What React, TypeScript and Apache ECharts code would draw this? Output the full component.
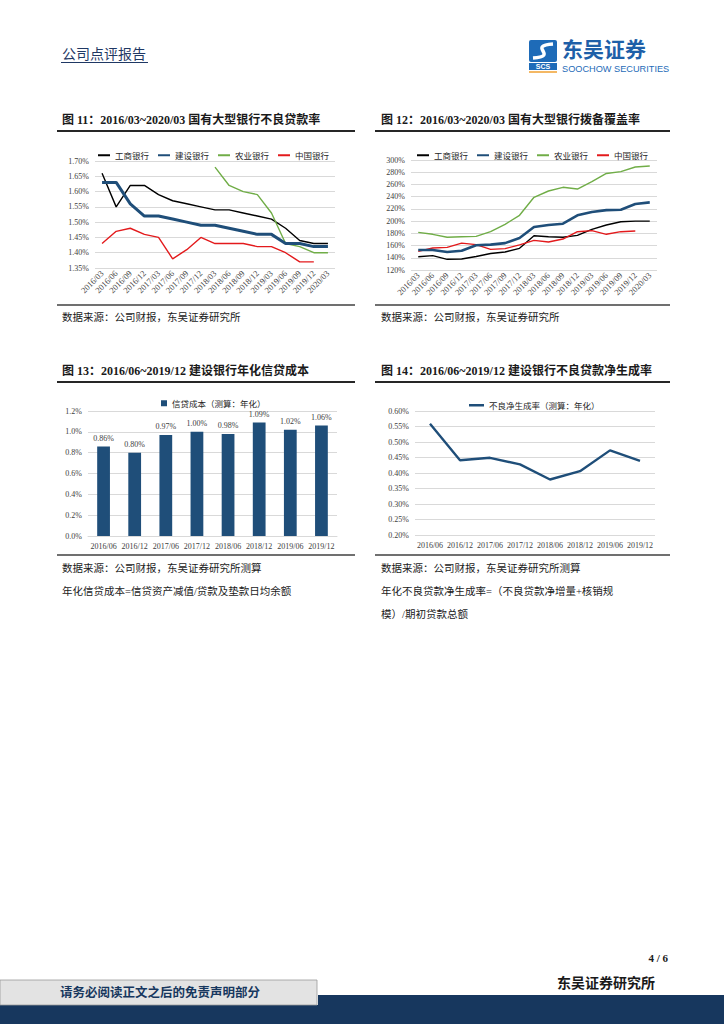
import React, { useEffect, useRef } from "react";
import * as echarts from "echarts";

const quarters = [
  "2016/03", "2016/06", "2016/09", "2016/12", "2017/03", "2017/06", "2017/09", "2017/12",
  "2018/03", "2018/06", "2018/09", "2018/12", "2019/03", "2019/06", "2019/09", "2019/12", "2020/03",
];
const bankNames = ["工商银行", "建设银行", "农业银行", "中国银行"];
const bankColors = ["#000000", "#1F4E79", "#70AD47", "#E31A1C"];

const nplICBC = [1.66, 1.55, 1.62, 1.62, 1.59, 1.57, 1.56, 1.55, 1.54, 1.54, 1.53, 1.52, 1.51, 1.48, 1.44, 1.43, 1.43];
const nplCCB = [1.63, 1.63, 1.56, 1.52, 1.52, 1.51, 1.50, 1.49, 1.49, 1.48, 1.47, 1.46, 1.46, 1.43, 1.43, 1.42, 1.42];
const nplABC = [null, null, null, null, null, null, null, null, 1.68, 1.62, 1.60, 1.59, 1.53, 1.43, 1.42, 1.40, 1.40];
const nplBOC = [1.43, 1.47, 1.48, 1.46, 1.45, 1.38, 1.41, 1.45, 1.43, 1.43, 1.43, 1.42, 1.42, 1.40, 1.37, 1.37, null];

const covICBC = [141.8, 143.5, 137.5, 138, 142, 147, 149.5, 155.5, 176, 174.5, 173.5, 176.7, 186.5, 193.6, 199, 200, 200];
const covCCB = [152.7, 152.7, 149.5, 151.6, 160.4, 161.5, 164, 172.4, 190.4, 193.6, 195.8, 209.5, 215, 218, 218.7, 228, 230.7];
const covABC = [181.6, 178.4, 173.5, 174.5, 175, 182.7, 194.7, 209.5, 239, 249.3, 255.3, 252.5, 264.5, 278, 281, 288.6, 290.2];
const covBOC = [150.5, 156, 157, 164, 161.5, 153.8, 155, 161, 168.5, 165.8, 170.7, 182.7, 184.4, 178.4, 182.7, 183.8, null];

const halfYears = ["2016/06", "2016/12", "2017/06", "2017/12", "2018/06", "2018/12", "2019/06", "2019/12"];
const creditCost = [0.86, 0.80, 0.97, 1.00, 0.98, 1.09, 1.02, 1.06];
const nplFormation = [0.559, 0.441, 0.449, 0.428, 0.379, 0.406, 0.473, 0.439];

const creditCostName = "信贷成本（测算：年化）";
const nplFormationName = "不良净生成率（测算：年化）";

const SERIF = "'Liberation Serif', 'Times New Roman', 'Noto Sans CJK SC', serif";
const CJK = "'Noto Sans CJK SC', sans-serif";
const GRID_COLOR = "#D9D9D9";
const LABEL_COLOR = "#404040";

function txt(x: number, y: number, text: string, fontSize: number, opts: any = {}) {
  return {
    type: "text",
    x,
    y,
    silent: true,
    style: {
      text,
      fontSize,
      fontFamily: opts.fontFamily || SERIF,
      fontWeight: opts.fontWeight || "normal",
      fill: opts.fill || "#1a1a1a",
      align: opts.align || "left",
      verticalAlign: "middle",
    },
  };
}
function ln(x1: number, y1: number, x2: number, y2: number, stroke: string, lineWidth: number) {
  return { type: "line", silent: true, shape: { x1, y1, x2, y2 }, style: { stroke, lineWidth } };
}

export default function App() {
  const ref = useRef<HTMLDivElement>(null);
  useEffect(() => {
    if (!ref.current) return;
    const chart = echarts.init(ref.current, undefined, { renderer: "svg" });

    const yLabel = (digits: number) => ({
      fontSize: 8,
      fontFamily: SERIF,
      color: LABEL_COLOR,
      margin: 6,
      formatter: (v: number) => v.toFixed(digits) + "%",
    });
    const splitLine = { show: true, lineStyle: { color: GRID_COLOR, width: 1 } };

    const lineSeries = (data: (number | null)[], idx: number, axis: number, width: number) => ({
      type: "line",
      name: bankNames[idx],
      xAxisIndex: axis,
      yAxisIndex: axis,
      data,
      symbol: "none",
      connectNulls: false,
      lineStyle: { color: bankColors[idx], width },
      itemStyle: { color: bankColors[idx] },
      z: idx === 1 ? 3 : 2,
    });

    const legendCommon = {
      orient: "horizontal",
      itemHeight: 2,
      icon: "rect",
      textStyle: { fontSize: 8.5, fontFamily: CJK, color: "#262626" },
      selectedMode: false,
    };

    const graphic: any[] = [
      // header
      txt(62, 53, "公司点评报告", 14, { fill: "#1F3864", fontFamily: CJK }),
      ln(61, 62.5, 148, 62.5, "#1F3864", 1),
      // logo
      {
        type: "rect",
        silent: true,
        shape: { x: 529, y: 40, width: 28, height: 22, r: 2 },
        style: { fill: "#1E6BB8" },
      },
      {
        type: "bezierCurve",
        silent: true,
        shape: { x1: 533, y1: 58, x2: 553, y2: 44, cpx1: 560, cpy1: 56, cpx2: 526, cpy2: 46 },
        style: { stroke: "#ffffff", lineWidth: 3.5, fill: null },
      },
      {
        type: "rect",
        silent: true,
        shape: { x: 529, y: 63, width: 28, height: 7 },
        style: { fill: "#1E6BB8" },
      },
      txt(543, 66.7, "SCS", 7, { fill: "#ffffff", fontFamily: "'Liberation Sans', sans-serif", fontWeight: "bold", align: "center" }),
      ln(529, 72, 557, 72, "#F0A030", 1.5),
      txt(562, 48, "东吴证券", 21, { fill: "#1E5FA8", fontFamily: CJK, fontWeight: "bold" }),
      txt(562, 69, "SOOCHOW SECURITIES", 9.2, { fill: "#1E6BB8", fontFamily: "'Liberation Sans', sans-serif" }),

      // chart titles row 1
      txt(62, 120, "图 11：2016/03~2020/03 国有大型银行不良贷款率", 12, { fontWeight: "bold" }),
      txt(381, 120, "图 12：2016/03~2020/03 国有大型银行拨备覆盖率", 12, { fontWeight: "bold" }),
      ln(57, 131, 355, 131, "#262626", 2),
      ln(375, 131, 670, 131, "#262626", 2),
      ln(57, 305, 355, 305, "#404040", 1.5),
      ln(375, 305, 670, 305, "#404040", 1.5),
      txt(62, 317, "数据来源：公司财报，东吴证券研究所", 10.5),
      txt(381, 317, "数据来源：公司财报，东吴证券研究所", 10.5),

      // chart titles row 2
      txt(62, 371, "图 13：2016/06~2019/12 建设银行年化信贷成本", 12, { fontWeight: "bold" }),
      txt(381, 371, "图 14：2016/06~2019/12 建设银行不良贷款净生成率", 12, { fontWeight: "bold" }),
      ln(57, 382, 355, 382, "#262626", 2),
      ln(375, 382, 670, 382, "#262626", 2),
      ln(57, 555, 355, 555, "#404040", 1.5),
      ln(375, 555, 670, 555, "#404040", 1.5),
      txt(62, 568, "数据来源：公司财报，东吴证券研究所测算", 10.5),
      txt(62, 591, "年化信贷成本=信贷资产减值/贷款及垫款日均余额", 10.5),
      txt(381, 568, "数据来源：公司财报，东吴证券研究所测算", 10.5),
      txt(381, 591, "年化不良贷款净生成率=（不良贷款净增量+核销规", 10.5),
      txt(381, 614, "模）/期初贷款总额", 10.5),

      // footer
      txt(668, 958, "4 / 6", 11, { fontWeight: "bold", align: "right" }),
      txt(655, 983, "东吴证券研究所", 14, { fontWeight: "bold", align: "right", fill: "#1a1a1a" }),
      {
        type: "rect",
        silent: true,
        shape: { x: 318, y: 995, width: 406, height: 29 },
        style: { fill: "#17375E" },
      },
      {
        type: "rect",
        silent: true,
        shape: { x: 0, y: 1005, width: 724, height: 19 },
        style: { fill: "#17375E" },
      },
      {
        type: "rect",
        silent: true,
        shape: { x: 0, y: 980, width: 317, height: 25 },
        style: { fill: "#E3E3E3", stroke: "#9A9A9A", lineWidth: 0.8 },
      },
      txt(160, 993, "请务必阅读正文之后的免责声明部分", 12.5, { fontWeight: "bold", align: "center", fill: "#17375E" }),
    ];

    const rotLabel = { rotate: 45, interval: 0, fontSize: 8.5, fontFamily: SERIF, color: LABEL_COLOR, margin: 4 };

    chart.setOption({
      animation: false,
      backgroundColor: "#ffffff",
      grid: [
        { left: 95, top: 161, width: 240, height: 107 },
        { left: 411, top: 160, width: 246, height: 110 },
        { left: 88, top: 411, width: 249, height: 125 },
        { left: 415, top: 411, width: 240, height: 124 },
      ],
      legend: [
        { ...legendCommon, left: 93, top: 146, itemWidth: 12, itemGap: 9, data: bankNames },
        { ...legendCommon, left: 412, top: 146, itemWidth: 12, itemGap: 9, data: bankNames },
        {
          ...legendCommon,
          left: 156,
          top: 394,
          itemWidth: 6,
          itemHeight: 6,
          data: [{ name: creditCostName, icon: "rect" }],
        },
        { ...legendCommon, left: 464, top: 396, itemWidth: 15, itemHeight: 2.5, data: [nplFormationName] },
      ],
      xAxis: [
        {
          gridIndex: 0,
          type: "category",
          data: quarters,
          boundaryGap: true,
          axisLine: { show: false },
          axisTick: { show: false },
          axisLabel: rotLabel,
        },
        {
          gridIndex: 1,
          type: "category",
          data: quarters,
          boundaryGap: true,
          axisLine: { show: false },
          axisTick: { show: false },
          axisLabel: rotLabel,
        },
        {
          gridIndex: 2,
          type: "category",
          data: halfYears,
          axisLine: { show: true, lineStyle: { color: GRID_COLOR } },
          axisTick: { show: false },
          axisLabel: { interval: 0, fontSize: 8, fontFamily: SERIF, color: LABEL_COLOR, margin: 6 },
        },
        {
          gridIndex: 3,
          type: "category",
          data: halfYears,
          axisLine: { show: false },
          axisTick: { show: false },
          axisLabel: { interval: 0, fontSize: 8, fontFamily: SERIF, color: LABEL_COLOR, margin: 6 },
        },
      ],
      yAxis: [
        {
          gridIndex: 0, type: "value", min: 1.35, max: 1.7, interval: 0.05,
          axisLine: { show: false }, axisTick: { show: false }, splitLine, axisLabel: yLabel(2),
        },
        {
          gridIndex: 1, type: "value", min: 120, max: 300, interval: 20,
          axisLine: { show: false }, axisTick: { show: false }, splitLine, axisLabel: yLabel(0),
        },
        {
          gridIndex: 2, type: "value", min: 0, max: 1.2, interval: 0.2,
          axisLine: { show: false }, axisTick: { show: false }, splitLine, axisLabel: yLabel(1),
        },
        {
          gridIndex: 3, type: "value", min: 0.2, max: 0.6, interval: 0.05,
          axisLine: { show: false }, axisTick: { show: false }, splitLine, axisLabel: yLabel(2),
        },
      ],
      series: [
        lineSeries(nplICBC, 0, 0, 1.4),
        lineSeries(nplCCB, 1, 0, 3),
        lineSeries(nplABC, 2, 0, 1.4),
        lineSeries(nplBOC, 3, 0, 1.4),
        lineSeries(covICBC, 0, 1, 1.4),
        lineSeries(covCCB, 1, 1, 2.6),
        lineSeries(covABC, 2, 1, 1.4),
        lineSeries(covBOC, 3, 1, 1.4),
        {
          type: "bar",
          name: creditCostName,
          xAxisIndex: 2,
          yAxisIndex: 2,
          data: creditCost,
          barWidth: "41%",
          itemStyle: { color: "#1F4E79" },
          label: {
            show: true,
            position: "top",
            distance: 4,
            fontSize: 8,
            fontFamily: SERIF,
            color: LABEL_COLOR,
            formatter: (p: any) => p.value.toFixed(2) + "%",
          },
        },
        {
          type: "line",
          name: nplFormationName,
          xAxisIndex: 3,
          yAxisIndex: 3,
          data: nplFormation,
          symbol: "none",
          lineStyle: { color: "#1F4E79", width: 2.4 },
          itemStyle: { color: "#1F4E79" },
        },
      ],
      graphic,
    });
    return () => chart.dispose();
  }, []);

  return (
    <div
      ref={ref}
      style={{ position: "absolute", left: 0, top: 0, width: 724, height: 1024, background: "#fff" }}
    />
  );
}
